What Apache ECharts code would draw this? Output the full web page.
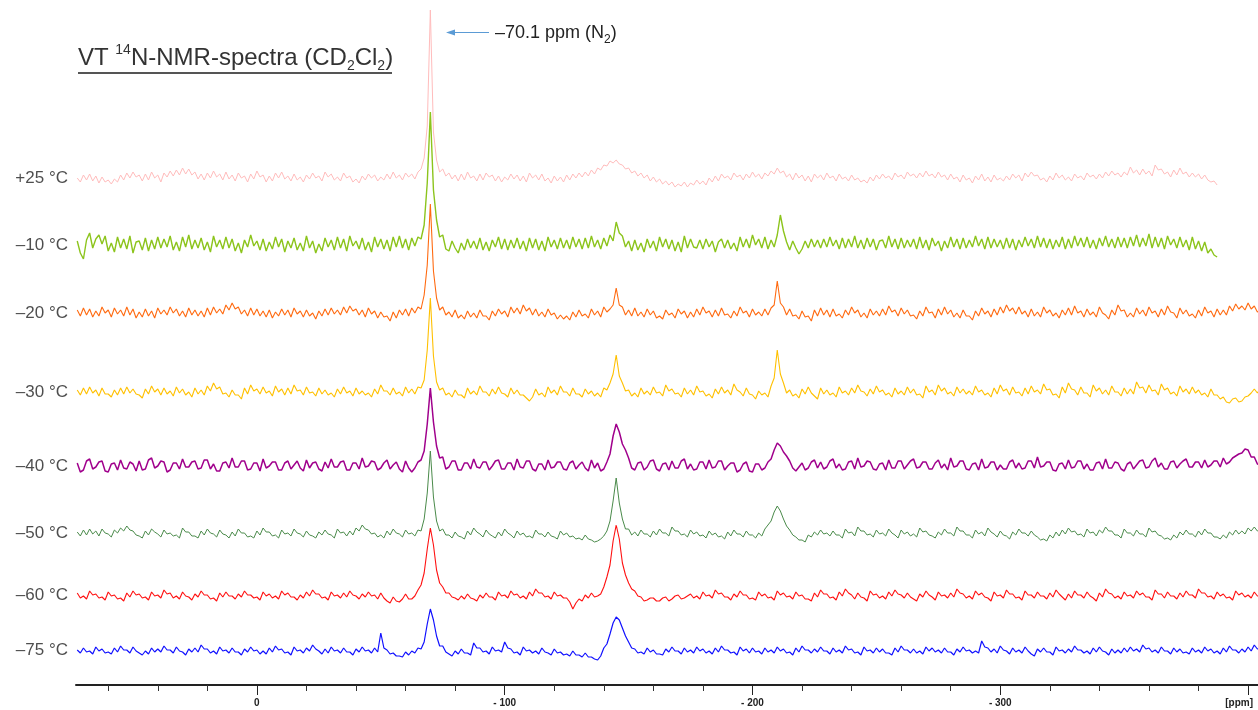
<!DOCTYPE html>
<html><head><meta charset="utf-8">
<script src="https://cdn.jsdelivr.net/npm/echarts@6/dist/echarts.min.js"></script>
<style>html,body{margin:0;padding:0;background:#fff}#c{width:1258px;height:710px}</style>
</head><body><div id="c"></div>
<script>
// ppm sampling grid of every trace (first point and spacing)
const ppmStart = 72.5, ppmStep = -1.25;

const tempLabels = ['+25 °C', '\u201310 °C', '\u201320 °C', '\u201330 °C', '\u201340 °C', '\u201350 °C', '\u201360 °C', '\u201375 °C'];

const majorTicks = [0, -100, -200, -300, -400];
const majorTickLabels = ['0', '- 100', '- 200', '- 300', '[ppm]'];
const minorTicks = [60, 40, 20, -20, -40, -60, -80, -120, -140, -160, -180, -220, -240, -260, -280, -320, -340, -360, -380];

const t25 = [0,-4,3,-2,4,-3,2,-5,1,-4,-2,-6,-1,-4,3,-2,5,0,6,1, 3,-3,4,-2,6,0,3,-4,5,1,7,2,8,3,10,4,9,3,6,-1,
 4,-2,5,0,7,1,4,-2,6,-1,3,-3,5,0,2,-4,4,-1,7,1, 3,-4,2,-3,5,0,6,-1,2,-3,4,-2,1,-4,3,-1,5,0,2,-3,
 6,1,4,-2,1,-3,5,0,2,-4,-1,-5,2,-2,4,0,3,-3,1,-2, 4,-1,6,0,3,-2,5,1,4,-1,6,9,20,52,168,46,18,6,9,2,
 5,-1,3,-3,4,-2,6,0,2,-3,4,-2,5,1,3,-3,2,-4,1,-2, 4,-1,3,-3,2,-4,5,0,3,-2,4,-3,0,-5,2,-3,1,-4,3,-2,
 4,0,5,1,6,2,8,4,10,8,13,12,17,15,18,14,13,9,10,5, 7,2,5,0,3,-3,1,-4,-1,-6,-3,-7,-4,-9,-6,-8,-4,-9,-5,-7,
 -2,-6,-3,-7,0,-4,2,-3,4,0,2,-2,5,1,3,-2,4,0,6,1, 4,-1,5,2,7,4,10,5,7,1,4,-2,5,0,3,-3,2,-4,4,0,
 3,-2,5,0,2,-3,4,-1,1,-3,3,-2,0,-4,-2,-5,1,-3,3,-1, 4,0,2,-2,5,1,3,-1,6,2,4,0,5,1,7,2,4,0,6,1,
 3,-2,4,-1,1,-4,3,-2,0,-5,2,-2,4,-3,1,-4,3,-2,0,-3, 2,-2,4,0,3,-3,5,1,6,2,3,-2,0,-4,2,-2,5,0,3,-2,
 1,-3,4,0,2,-2,5,1,3,-1,4,0,6,2,7,3,5,1,6,3, 11,5,8,3,9,4,7,2,13,8,9,4,6,1,8,3,10,4,6,1,
 5,1,4,-1,3,-2,-4,-3,-7];
const tm10 = [4,-8,-14,5,12,-3,6,10,1,9,-6,2,-7,8,-3,6,-4,9,-8,3, 4,-5,7,-6,5,-4,8,-3,6,-2,9,-5,3,-6,8,-2,10,-4,5,-3,
 7,-5,3,-7,9,-2,5,-4,8,-3,6,-6,2,-8,5,-2,10,-1,4,-5, 6,-6,3,-4,8,-2,6,-7,4,-3,7,-5,2,-6,9,-3,4,-8,1,-6,
 7,-2,5,-5,8,-3,6,-6,9,-1,4,-4,7,-5,3,-7,8,-2,6,-4, 5,-6,8,-2,9,-3,6,-5,7,-1,8,6,20,62,133,55,25,8,10,-4,
 -6,4,-3,-8,2,-5,6,-3,4,-4,7,-5,3,-6,5,-2,8,-4,6,-5, 5,-3,7,-4,4,-6,7,-3,6,-5,4,-6,8,-2,5,-4,7,-3,5,-4,
 8,-2,6,-4,7,-3,9,-2,5,-4,7,-1,10,4,23,12,9,-2,4,-6, 5,-5,2,-7,6,-3,4,-6,8,-2,6,-4,5,-6,3,-7,9,-3,6,-2,
 -3,5,-4,6,-2,4,-7,3,6,-3,5,-4,2,-6,8,-2,6,-3,10,0, 6,-3,8,-4,5,-2,10,30,14,3,-5,4,-3,-9,-4,4,-3,6,-2,5,
 -3,6,-2,8,-1,5,-4,7,-3,6,-2,9,-3,5,-4,7,-2,6,-5,4, 5,-3,9,-2,6,-4,7,-3,5,-2,6,-4,8,-3,5,-5,7,-1,4,-6,
 4,-3,8,-2,6,-4,7,-3,5,-2,9,-1,6,-4,8,-3,6,-2,5,-4, 7,-3,6,-5,5,-2,8,-1,6,-3,9,-2,7,-3,6,-4,5,-2,8,-4,
 6,-3,9,-1,7,-2,8,-3,5,-4,7,-1,9,-2,6,-3,8,-2,7,-3, 8,-1,10,-2,7,-1,11,-3,8,-2,7,-4,9,0,6,-3,8,-2,5,-5,
 8,-4,4,-6,3,-8,-4,-10,-12];
const tm20 = [3,-3,5,-2,4,-4,2,-3,6,0,3,-4,5,-1,3,-3,6,-2,4,-5, 1,-4,4,-3,2,-5,5,-1,3,-2,6,0,4,-3,2,-4,5,-2,3,-3,
 2,-4,5,-2,6,0,4,-1,8,3,10,4,6,-1,3,-3,5,-2,4,-3, 2,-4,3,-5,1,-3,4,-2,3,-4,5,-1,2,-4,3,-3,0,-6,2,-3,
 4,-2,5,-1,3,-2,6,0,7,2,4,-2,3,-4,5,-1,2,-5,1,-4, -3,-8,1,-5,3,-2,4,-3,5,0,6,4,18,48,109,42,15,3,6,-2,
 1,-4,3,-5,-2,-6,2,-4,0,-5,3,-3,-3,-7,2,-3,4,-1,2,-4, 6,0,5,-1,8,2,5,-2,4,-3,1,-4,4,-2,0,-6,-2,-6,-3,-7,
 1,-4,3,-3,-1,-5,4,-2,2,-4,6,1,4,8,25,8,6,-2,3,-3, 5,-3,1,-4,4,-2,2,-5,-3,-6,3,-2,0,-5,4,-1,2,-5,1,-4,
 4,-2,6,0,2,-4,3,-3,5,-2,-1,-5,2,-3,6,0,2,-4,4,-2, 1,-3,4,-2,5,8,32,10,6,-2,4,-3,-2,-6,2,-4,-3,-8,3,-3,
 5,-2,3,-4,4,-3,-1,-5,3,-2,6,0,3,-4,0,-5,4,-2,2,-3, 4,-2,7,1,3,-3,5,-1,3,-3,-2,-6,2,-3,6,0,1,-5,4,-2,
 6,-1,3,-4,0,-5,3,-3,-3,-7,2,-3,5,-1,2,-4,4,-2,6,0, 8,2,5,-1,6,-1,2,-4,4,-3,1,-4,6,0,3,-3,0,-5,3,-2,
 5,-2,7,0,2,-4,4,-2,1,-4,6,0,-2,-6,3,-2,8,2,3,-4, 0,-4,5,-1,3,-3,6,0,2,-4,4,-2,7,1,0,-5,5,-1,3,-3,
 -1,-5,3,-3,6,0,2,-4,4,-2,3,-2,7,2,9,4,7,3,10,4, 7,1,3];
const tm30 = [2,-3,4,-2,5,-1,2,-4,4,-2,-2,-5,2,-3,4,-2,5,-1,3,-2, -3,-6,3,-2,6,0,3,-3,4,-2,1,-4,5,-1,3,-3,0,-5,4,-2,
 2,-3,6,1,9,3,5,-2,-1,-5,2,-3,-3,-7,4,-2,7,1,3,-2, 5,-1,1,-4,6,0,3,-3,4,-2,7,1,2,-3,5,-1,0,-4,4,-2,
 2,-3,-1,-5,3,-2,5,-1,1,-4,4,-2,1,-3,-1,-5,3,-2,7,1, 1,-3,4,-2,0,-4,5,-1,3,-2,5,4,12,42,94,36,10,2,4,-3,
 -1,-5,2,-3,-3,-6,4,-2,1,-3,6,0,0,-4,3,-2,5,-1,-2,-5, 4,-2,2,-3,-3,-6,-9,-5,3,-3,-1,-5,5,-1,2,-3,6,0,0,-4,
 4,-2,-2,-5,3,-2,1,-4,-1,-5,4,2,9,18,37,16,9,1,2,-4, -1,-5,4,-2,1,-3,5,-1,0,-4,7,1,3,-2,-1,-5,4,-2,2,-3,
 6,0,1,-4,-2,-6,3,-2,5,-1,2,-3,8,2,0,-4,4,-2,-3,-7, 1,-3,-1,-5,6,14,42,18,9,-1,2,-4,-2,-6,3,-2,5,-1,-4,-7,
 4,-2,2,-3,-1,-5,5,-1,1,-3,4,-1,7,1,0,-4,3,-2,6,0, 2,-3,-1,-5,4,-2,1,-3,5,-1,3,-3,-2,-6,6,0,2,-3,7,1,
 4,-2,0,-4,5,-1,3,-2,1,-3,6,0,2,-3,-1,-5,4,-2,7,1, 3,-3,5,-1,0,-4,4,-2,6,0,2,-2,8,2,3,-3,-2,-6,5,-1,
 9,3,2,-3,5,-1,-1,-5,7,1,4,-2,2,-3,6,0,0,-4,4,-2, 3,-2,10,4,5,-1,7,1,2,-3,8,2,4,-2,0,-4,6,0,3,-2,
 5,-1,2,-3,-1,-5,3,-3,-3,-7,-5,-10,-11,-7,-6,-10,-9,-5,-4,-1, 3,-1,4];
const tm40 = [3,-6,-4,5,7,-3,-1,4,5,-5,-6,2,3,-4,6,-2,-3,4,2,-5, 5,-4,-3,6,8,-2,0,5,4,-6,-4,3,3,-3,7,-1,-1,4,5,-3,
 -2,6,6,-3,2,-5,-5,3,4,-2,8,-1,-1,5,5,-4,-3,3,3,-5, 7,-2,0,4,4,-4,-4,3,5,-3,1,5,-2,-5,6,-2,3,4,-3,-5,
 4,-2,7,-1,-1,4,5,-4,-4,3,3,-3,8,-1,0,5,4,-4,-2,3, 6,-3,1,4,-3,-6,5,-2,-6,-2,4,6,15,42,78,44,20,8,9,-3,
 -1,5,5,-4,-4,3,3,-3,7,-1,-2,4,4,-4,0,5,6,-3,-3,3, 3,-4,7,-1,-2,5,5,-3,-5,2,2,-4,6,-2,-1,4,4,-3,-4,3,
 5,-3,1,4,-2,-5,6,-2,3,-5,-3,4,12,30,42,34,22,16,8,-2, -4,3,4,-4,-1,5,6,-3,-5,2,3,-4,5,-2,-2,5,7,-3,2,-4,
 -3,4,4,-3,6,-2,-1,5,5,-4,0,3,3,-6,-4,2,4,-5,-6,2, 2,-4,-2,4,7,16,23,20,14,10,5,-2,-5,-1,3,-4,-2,4,6,-2,
 4,-3,-1,5,7,-2,2,-4,-3,4,5,-3,8,-1,0,5,4,-3,-4,2, 3,-4,6,-2,-2,5,5,-3,1,5,7,-2,-1,4,4,-3,-3,3,6,-2,
 2,-4,8,-1,0,5,5,-3,-4,2,3,-4,7,-2,-1,4,4,-4,1,-3, -3,4,6,-2,3,-3,-2,5,5,-2,9,-1,0,4,4,-4,-5,2,3,-3,
 6,-2,-1,5,5,-3,2,-4,-4,3,4,-3,7,-2,-2,4,3,-3,-5,2, 4,-3,1,5,6,-2,-1,5,8,-1,3,-3,-3,4,5,-2,2,5,7,-1,
 -1,4,4,-2,6,-1,1,5,5,-1,8,2,4,8,10,12,13,17,16,9, 9,2,1];
const tm50 = [1,-3,3,-2,4,-1,2,-3,4,0,-1,-4,3,0,5,2,7,3,2,-2, -3,-5,2,-2,4,1,-1,-4,3,-1,0,-3,-2,-5,5,1,1,-3,-3,-5,
 2,-2,4,0,-1,-4,3,-1,-2,-5,1,-3,4,0,0,-4,-3,-5,2,-2, 5,1,1,-3,-2,-5,3,-1,0,-3,4,0,-1,-4,2,-2,-3,-5,1,-2,
 3,-1,-2,-5,4,0,1,-3,2,-2,5,2,8,4,3,-1,0,-4,-2,-5, 2,-2,4,0,-1,-4,3,-1,0,-3,3,2,14,40,82,36,12,2,4,-2,
 -2,-5,1,-3,-4,-6,2,-2,5,1,-1,-4,3,-1,-3,-5,1,-3,4,0, -2,-5,2,-2,0,-4,-3,-5,3,-1,-1,-4,1,-3,-4,-6,2,-2,0,-4,
 -3,-6,-5,-7,-2,-6,-7,-9,-8,-6,-3,2,12,32,55,30,14,4,4,-2, 1,-3,3,-1,-1,-4,2,-2,4,0,0,-3,6,2,2,-2,-1,-4,3,-1,
 1,-3,-2,-5,2,-2,0,-4,-3,-6,1,-3,3,-1,-1,-4,2,-2,-2,-5, 0,-3,4,8,12,21,27,22,14,7,3,-2,-4,-7,-7,-9,-2,-4,1,-2,
 3,-1,0,-3,2,-2,-2,-5,4,0,1,-3,6,2,2,-2,-1,-4,3,-1, 0,-3,4,0,-2,-5,3,-1,1,-3,-1,-4,5,1,2,-2,-3,-5,1,-2,
 4,0,0,-3,6,2,2,-2,-2,-5,3,-1,1,-3,5,1,-1,-4,2,-2, -3,-6,1,-2,4,0,0,-3,2,-2,-4,-7,-6,-8,-2,-5,1,-3,3,-1,
 5,1,2,-2,-1,-4,4,0,1,-3,3,0,6,2,2,-2,-2,-5,4,0, 0,-3,3,-1,-1,-4,5,1,2,-2,-3,-6,-5,-7,-2,-5,1,-2,3,-1,
 -1,-4,2,-2,4,0,0,-4,-4,-6,-2,-5,1,-2,3,-1,2,-1,5,2, 6,2,3];
const tm60 = [2,-3,-1,-4,4,0,1,-3,-2,-5,3,-1,0,-4,-3,-6,2,-2,4,0, 1,-3,-2,-5,3,-1,0,-3,5,1,2,-3,-1,-4,3,-1,-2,-5,1,-2,
 4,0,0,-4,-3,-6,2,-2,3,-1,-1,-4,1,-2,4,0,0,-3,-2,-5, 3,-1,1,-3,-1,-4,4,0,2,-2,-2,-5,0,-3,3,-1,5,1,1,-3,
 -2,-5,3,-1,0,-3,2,-2,4,0,-1,-4,1,-2,3,-1,0,-4,2,-3, -6,-8,-2,-6,-7,-4,1,-4,-4,-1,5,10,22,46,67,50,25,12,8,2,
 2,-2,-3,-5,-1,-4,1,-3,-4,-6,0,-3,2,-2,-2,-5,3,-1,0,-3, 4,0,1,-3,-1,-4,3,-1,6,2,2,-2,-1,-4,3,-1,0,-3,-3,-7,
 -14,-8,-4,-6,0,-3,2,-2,-1,1,8,18,30,54,70,56,32,20,12,6, 4,-1,-2,-6,-5,-3,-3,-6,-6,-3,-2,-6,-4,-1,0,-4,-3,-1,1,-3,
 -1,-4,3,-1,0,-3,5,1,2,-2,-2,-5,1,-2,4,0,0,-4,-3,-5, 3,-1,1,-3,-2,-5,4,0,2,-2,-1,-4,3,-1,0,-4,-4,-6,2,-2,
 5,1,1,-3,-2,-5,3,-1,6,2,0,-4,2,-2,-3,-6,4,0,1,-3, -1,-4,3,-1,5,1,0,-3,2,-2,-4,-6,1,-2,4,0,-2,-5,3,-1,
 0,-3,2,-2,6,2,1,-3,-1,-4,4,0,2,-2,-3,-6,3,-1,0,-3, 5,1,1,-3,-2,-5,4,0,0,-3,3,-1,-1,-4,2,-2,5,1,-2,-5,
 1,-3,4,0,0,-3,3,-1,-3,-6,2,-2,6,2,1,-3,-1,-4,3,-1, 0,-3,4,0,2,-2,-2,-5,5,1,1,-3,3,-1,-1,-4,2,-2,4,0,
 0,-3,6,2,2,-2,-1,-4,3,-1,1,-3,-2,-5,4,0,2,-2,0,-3, 3,-1,-1];
const tm75 = [0,-3,2,-2,-1,-4,3,-1,1,-3,-2,-4,2,-2,4,0,0,-3,3,-1, -3,-5,-1,-4,2,-2,1,-2,4,0,0,-3,3,-1,-2,-5,1,-2,2,-2,
 5,1,1,-3,-1,-4,3,-1,0,-3,2,-2,-2,-5,1,-2,3,-1,0,-4, -1,-4,2,-2,4,0,1,-3,-2,-5,3,-1,0,-3,2,-1,5,1,-1,-4,
 1,-3,3,-1,0,-3,2,-2,-2,-5,1,-2,3,-1,0,-3,2,-2,17,2, 0,-4,-3,-6,-6,-7,-2,-5,-1,-3,2,1,8,26,41,30,14,4,4,-2,
 -4,-6,-1,-4,1,-3,-3,-5,7,2,2,-2,-1,-4,3,-1,0,-2,8,2, 1,-3,-2,-5,3,-1,0,-3,-1,-4,2,-2,-3,-5,1,-3,-2,-5,-4,-6,
 -1,-5,-5,-7,-3,-7,-7,-9,-10,-6,2,6,16,27,33,30,22,14,8,2, 1,-3,-2,-4,2,-2,0,-4,-4,-5,1,-2,3,-1,-1,-4,2,-2,0,-3,
 3,-1,1,-3,-1,-4,2,-2,4,0,0,-3,-2,-5,3,-1,1,-3,2,-2, -1,-4,2,-2,0,-3,3,-1,1,-3,-2,-5,2,-2,4,0,0,-3,1,-2,
 3,-1,-1,-4,2,-2,0,-3,4,0,1,-3,-2,-5,3,-1,0,-3,2,-2, 1,-3,-3,-5,2,-2,4,0,0,-3,1,-3,-1,-4,3,-1,2,-2,0,-3,
 2,-2,-2,-5,1,-2,3,-1,0,-3,-1,-3,9,3,2,-2,1,-3,4,0, -1,-4,2,-2,0,-3,3,-1,-4,-6,1,-2,2,-2,-2,-5,3,-1,0,-3,
 1,-2,4,0,0,-3,-1,-4,2,-2,3,-1,-2,-5,1,-3,0,-3,2,-2, 3,-1,1,-2,5,1,2,-2,0,-3,3,-1,-1,-4,2,-2,1,-3,-2,-4,
 2,-2,0,-3,3,-1,1,-3,-1,-4,2,-2,4,0,0,-3,1,-2,3,-1, 5,1,2];

const traces = [t25, tm10, tm20, tm30, tm40, tm50, tm60, tm75];

// presentation: stacking offsets (in y-axis units) and styles
const offsets = [507, 440, 372, 293, 219, 152, 90, 35];
const colors = ['#ffbcbc', '#8cc41c', '#ff6a10', '#ffc000', '#a0008c', '#4a8a4a', '#ff1010', '#1010ff'];
const widths = [1.0, 1.4, 1.1, 1.1, 1.5, 1.0, 1.1, 1.2];

const FONT = "'Liberation Sans', Arial, sans-serif";
const chart = echarts.init(document.getElementById('c'), null, {renderer: 'canvas', width: 1258, height: 710});

const series = [];
traces.forEach((vals, k) => {
  series.push({
    type: 'line', name: tempLabels[k], showSymbol: false, animation: false, silent: true,
    data: vals.map((v, i) => [ppmStart + i * ppmStep, offsets[k] + v]),
    lineStyle: {color: colors[k], width: widths[k]}, itemStyle: {color: colors[k]}
  });
});
series.push({
  type: 'scatter', symbolSize: 0, animation: false, silent: true,
  data: offsets.map((o, k) => ({value: [73, o], label: {formatter: tempLabels[k]}})),
  label: {show: true, position: 'left', distance: 8, fontSize: 17, color: '#222', fontFamily: FONT}
});

const axisCommon = {type: 'value', min: -404, max: 73, inverse: true, position: 'bottom', splitLine: {show: false}};
chart.setOption({
  backgroundColor: '#fff',
  animation: false,
  grid: {left: 76, right: 0, top: 0, bottom: 25, containLabel: false, outerBoundsMode: 'none'},
  xAxis: [
    Object.assign({}, axisCommon, {
      axisLine: {show: true, lineStyle: {color: '#222', width: 2}},
      axisTick: {show: true, customValues: minorTicks, length: 6, lineStyle: {color: '#333', width: 1}},
      axisLabel: {show: false}
    }),
    Object.assign({}, axisCommon, {
      axisLine: {show: false},
      axisTick: {show: true, customValues: majorTicks, length: 10, lineStyle: {color: '#222', width: 1}},
      axisLabel: {show: true, customValues: majorTicks, margin: 13, fontSize: 10, fontWeight: 'bold', color: '#222', fontFamily: FONT,
        hideOverlap: false,
        formatter: v => v === -400 ? '{p|' + majorTickLabels[4] + '}' : majorTickLabels[majorTicks.indexOf(v)],
        rich: {p: {fontSize: 10, fontWeight: 'bold', color: '#222', fontFamily: FONT, padding: [0, 18, 0, 0]}}}
    })
  ],
  yAxis: {type: 'value', min: 0, max: 685, show: false},
  title: {
    left: 78, top: 43, padding: 0,
    text: 'VT {sup|14}N-NMR-spectra (CD{sub|2}Cl{sub|2})',
    textStyle: {fontSize: 24, fontWeight: 'normal', color: '#333', fontFamily: FONT, lineHeight: 30,
      rich: {
        sup: {fontSize: 14, verticalAlign: 'top', lineHeight: 16, color: '#333', fontFamily: FONT},
        sub: {fontSize: 14, verticalAlign: 'bottom', lineHeight: 16, color: '#333', fontFamily: FONT}
      }}
  },
  graphic: [
    {type: 'line', shape: {x1: 78, y1: 73, x2: 392, y2: 73}, style: {stroke: '#555', lineWidth: 1.8}, silent: true},
    {type: 'line', shape: {x1: 489, y1: 32.5, x2: 452, y2: 32.5}, style: {stroke: '#5b9bd5', lineWidth: 1}, silent: true},
    {type: 'polygon', shape: {points: [[446, 32.5], [455, 29.5], [455, 35.5]]}, style: {fill: '#5b9bd5'}, silent: true},
    {type: 'text', left: 495, top: 20, silent: true,
      style: {text: '\u201370.1 ppm (N{sub|2})', fontSize: 18, fill: '#222', fontFamily: FONT, lineHeight: 26,
        rich: {sub: {fontSize: 12, verticalAlign: 'bottom', lineHeight: 14, fill: '#222', fontFamily: FONT}}}}
  ],
  series: series
});
</script></body></html>
